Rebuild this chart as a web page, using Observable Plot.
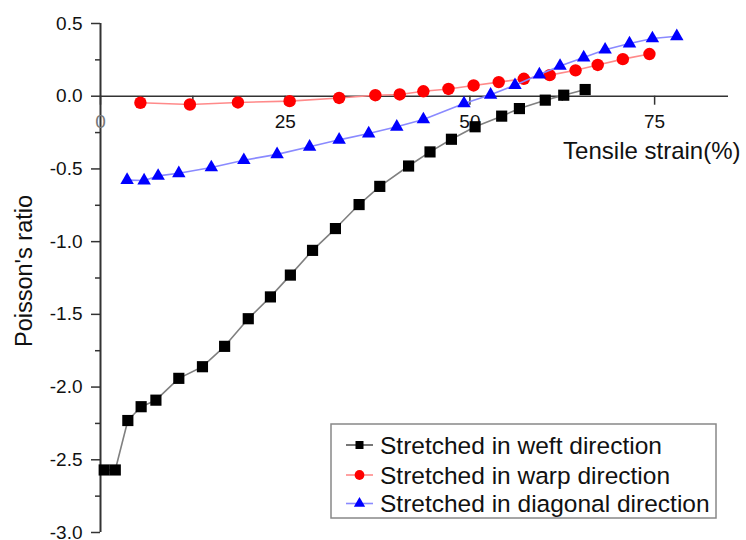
<!DOCTYPE html>
<html><head><meta charset="utf-8">
<script src="https://cdn.jsdelivr.net/npm/d3@7"></script>
<script src="https://cdn.jsdelivr.net/npm/@observablehq/plot@0.6"></script>
<style>body{margin:0;background:#fff} #chart{width:746px;height:540px}</style>
</head><body><div id="chart"></div>
<script>
// Series: stretched in weft direction (black squares)
const weftX = [0.5, 2, 3.7, 5.5, 7.5, 10.6, 13.8, 16.8, 20.0, 23.0, 25.7, 28.7, 31.8, 35.0, 37.8, 41.7, 44.6, 47.5, 50.7, 54.3, 56.7, 60.2, 62.7, 65.6];
const weftY = [-2.57, -2.57, -2.23, -2.135, -2.09, -1.94, -1.86, -1.72, -1.53, -1.38, -1.23, -1.06, -0.91, -0.745, -0.62, -0.48, -0.383, -0.296, -0.21, -0.137, -0.085, -0.027, 0.007, 0.046];
// Series: stretched in warp direction (red circles)
const warpX = [5.4, 12.1, 18.6, 25.6, 32.3, 37.2, 40.5, 43.7, 47.1, 50.5, 53.9, 57.3, 60.8, 64.3, 67.3, 70.7, 74.3];
const warpY = [-0.045, -0.057, -0.043, -0.034, -0.012, 0.007, 0.012, 0.034, 0.05, 0.074, 0.097, 0.12, 0.145, 0.178, 0.215, 0.255, 0.29];
// Series: stretched in diagonal direction (blue triangles)
const diagX = [3.6, 5.9, 7.8, 10.6, 15.0, 19.4, 23.9, 28.3, 32.3, 36.3, 40.1, 43.7, 49.2, 52.8, 56.1, 59.4, 62.2, 65.4, 68.3, 71.6, 74.7, 78.0];
const diagY = [-0.577, -0.58, -0.548, -0.53, -0.49, -0.44, -0.40, -0.348, -0.30, -0.257, -0.21, -0.16, -0.05, 0.01, 0.076, 0.149, 0.208, 0.266, 0.32, 0.362, 0.397, 0.412];

const seriesNames = ["Stretched in weft direction", "Stretched in warp direction", "Stretched in diagonal direction"];
const xTicks = [0, 25, 50, 75];
const xMinor = [12.5, 37.5, 62.5];
const yTicks = [0.5, 0, -0.5, -1, -1.5, -2, -2.5, -3];
const yMinor = [0.25, -0.25, -0.75, -1.25, -1.75, -2.25, -2.75];
const xTitle = "Tensile strain(%)";
const yTitle = "Poisson's ratio";

const rows = (xs, ys) => xs.map((x, i) => ({x, y: ys[i]}));
const weft = rows(weftX, weftY), warp = rows(warpX, warpY), diag = rows(diagX, diagY);

const font = "'Liberation Sans', Arial, Helvetica, sans-serif";
const axisColor = "#333";

const plot = Plot.plot({
  width: 746, height: 540,
  marginLeft: 100, marginRight: 18, marginTop: 23, marginBottom: 8,
  x: {domain: [0, 85], axis: null},
  y: {domain: [-3, 0.5]},
  style: {fontFamily: font, overflow: "visible", background: "white", color: "#111"},
  marks: [
    Plot.axisY({ticks: yMinor, tickSize: 5, tickFormat: () => "", label: null, stroke: axisColor, strokeWidth: 1.5}),
    Plot.axisY({ticks: yTicks, tickSize: 9, tickPadding: 9, tickFormat: d => d.toFixed(1), fontSize: 19, label: null, stroke: axisColor, strokeWidth: 1.5, fill: "#111"}),
    Plot.ruleX([0], {y1: -3, y2: 0.5, stroke: axisColor, strokeWidth: 2}),
    Plot.ruleY([0], {x1: 0, x2: 85, stroke: axisColor, strokeWidth: 1.5}),
    Plot.ruleX(xTicks, {x: d => d, y1: 0, y2: 0, insetTop: 9, stroke: axisColor, strokeWidth: 1.5}),
    Plot.ruleX(xMinor, {x: d => d, y1: 0, y2: 0, insetTop: 5, stroke: axisColor, strokeWidth: 1.5}),
    Plot.text(xTicks, {x: d => d, y: 0, dy: 26, text: d => String(d), fontSize: 19, fill: d => d === 0 ? "#777" : "#111"}),
    Plot.text([yTitle], {frameAnchor: "left", textAnchor: "middle", rotate: -90, dx: -76, dy: -7, fontSize: 23.5, fill: "#111"}),
    Plot.text([xTitle], {frameAnchor: "top-right", textAnchor: "end", lineAnchor: "middle", dx: 12, dy: 128, fontSize: 24, fill: "#111"}),
    Plot.line(weft, {x: "x", y: "y", stroke: "#808080", strokeWidth: 1.6}),
    Plot.dot(weft, {x: "x", y: "y", symbol: "square", r: 6.3, fill: "#000", stroke: "none"}),
    Plot.line(warp, {x: "x", y: "y", stroke: "#ff8a8a", strokeWidth: 1.6}),
    Plot.dot(warp, {x: "x", y: "y", symbol: "circle", r: 6.2, fill: "#ff0000", stroke: "none"}),
    Plot.line(diag, {x: "x", y: "y", stroke: "#8a8aff", strokeWidth: 1.6}),
    Plot.dot(diag, {x: "x", y: "y", symbol: "triangle", r: 5, fill: "#0000ff", stroke: "none"})
  ]
});
document.getElementById("chart").appendChild(plot);

// Legend drawn inside the SVG (layout only)
const svg = d3.select(plot);
const lg = svg.append("g").attr("font-family", font).attr("text-anchor", "start");
lg.append("rect").attr("x", 331).attr("y", 424).attr("width", 385).attr("height", 94)
  .attr("fill", "white").attr("stroke", "#888").attr("stroke-width", 1.5);
const legendStyle = [
  {line: "#555", fill: "#000", sym: d3.symbolSquare, size: 64},
  {line: "#ff8a8a", fill: "#ff0000", sym: d3.symbolCircle, size: 75},
  {line: "#8a8aff", fill: "#0000ff", sym: d3.symbolTriangle, size: 55}
];
const rowY = [445, 475, 503.5];
seriesNames.forEach((name, i) => {
  const s = legendStyle[i], y = rowY[i];
  lg.append("line").attr("x1", 346).attr("x2", 373).attr("y1", y).attr("y2", y)
    .attr("stroke", s.line).attr("stroke-width", 1.6);
  lg.append("path").attr("d", d3.symbol(s.sym, s.size)()).attr("transform", `translate(359.5,${y})`).attr("fill", s.fill);
  lg.append("text").attr("x", 380).attr("y", y).attr("dy", "0.36em").attr("font-size", 24.5).attr("text-anchor", "start").attr("fill", "#111").text(name);
});
</script>
</body></html>
